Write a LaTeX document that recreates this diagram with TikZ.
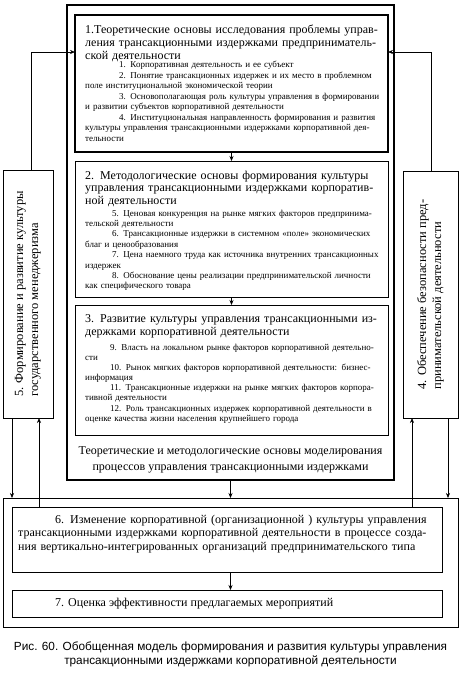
\documentclass[tikz,border=0pt]{standalone}
\usepackage{fontspec}
\setmainfont{Liberation Serif}
\newfontfamily\capfont{Liberation Sans}
\usetikzlibrary{arrows.meta}
\newcommand{\JL}[1]{\makebox[\linewidth][s]{#1}}
\begin{document}
\begin{tikzpicture}[x=1pt,y=-1pt,
  box/.style={draw=black, line width=0.8pt, inner sep=0pt, outer sep=0pt, anchor=north west},
  heavybox/.style={box, line width=1.3pt},
  arr/.style={-{Stealth[length=5pt,width=4pt]}, line width=0.6pt},
  ttl/.style={anchor=north west, inner sep=0pt, align=left},
  itm/.style={anchor=north west, inner sep=0pt, align=left},
  vtxt/.style={rotate=90, inner sep=0pt, align=left, font=\fontsize{12.5}{15}\selectfont},
]
\useasboundingbox (0,0) rectangle (472,673);

% outer frame and boxes
\node[heavybox, minimum width=327, minimum height=475] (outer) at (67,5) {};
\node[heavybox, minimum width=313, minimum height=137] (b1) at (75,15) {};
\node[box, minimum width=313, minimum height=136] (b2) at (75,161) {};
\node[box, minimum width=313, minimum height=130] (b3) at (75,305) {};
\node[box, minimum width=50, minimum height=248] (b5) at (3,170) {};
\node[box, minimum width=55, minimum height=247] (b4) at (403,171) {};
\node[box, minimum width=455, minimum height=129] (frame) at (3,498) {};
\node[box, minimum width=430, minimum height=65] (b6) at (12,507) {};
\node[box, minimum width=430, minimum height=27] (b7) at (12,590) {};

% box 1 text
\node[ttl, text width=300pt, font=\fontsize{12}{13}\selectfont] (t1) at (85,23.9)
 {\strut\JL{1.Теоретические основы исследования проблемы управ-}\\
  \JL{ления трансакционными издержками предприниматель-}\\
  ской деятельности};
\node[itm, text width=296pt, font=\fontsize{9}{10.5}\selectfont] (i1) at (85,60.15)
 {\strut\hspace*{34pt}1. Корпоративная  деятельность и ее субъект\\
  \JL{\hspace*{34pt}2. Понятие трансакционных издержек и их место в проблемном}\\
  поле институциональной экономической теории\\
  \JL{\hspace*{34pt}3. Основополагающая роль культуры управления в формировании}\\
  и развитии субъектов корпоративной деятельности\\
  \JL{\hspace*{34pt}4. Институциональная направленность формирования и развития}\\
  \JL{культуры управления трансакционными издержками корпоративной дея-}\\
  тельности};

% box 2 text
\node[ttl, text width=294pt, font=\fontsize{12}{12.7}\selectfont] (t2) at (85,170.1)
 {\strut\JL{2. Методологические основы формирования культуры}\\
  \JL{управления трансакционными издержками корпоратив-}\\
  ной деятельности};
\node[itm, text width=293pt, font=\fontsize{9}{10.4}\selectfont] (i2) at (85,208.7)
 {\strut\JL{\hspace*{27pt}5. Ценовая конкуренция на рынке мягких факторов предпринима-}\\
  тельской деятельности\\
  \JL{\hspace*{27pt}6. Трансакционные издержки в системном «поле» экономических}\\
  благ и ценообразования\\
  \JL{\hspace*{27pt}7. Цена наемного труда как источника внутренних трансакционных}\\
  издержек\\
  \JL{\hspace*{27pt}8. Обоснование цены реализации предпринимательской личности}\\
  как специфического товара};

% box 3 text
\node[ttl, text width=294pt, font=\fontsize{12}{13.5}\selectfont] (t3) at (85,312.55)
 {\strut\JL{3. Развитие культуры управления трансакционными из-}\\
  держками корпоративной деятельности};
\node[itm, text width=295pt, font=\fontsize{9}{10.15}\selectfont] (i3) at (85,342.9)
 {\strut\JL{\hspace*{25pt}9. Власть на локальном рынке факторов корпоративной деятельно-}\\
  сти\\
  \JL{\hspace*{25pt}10. Рынок мягких факторов корпоративной деятельности: бизнес-}\\
  информация\\
  \JL{\hspace*{25pt}11. Трансакционные издержки на рынке мягких факторов корпора-}\\
  тивной деятельности\\
  \JL{\hspace*{25pt}12. Роль трансакционных издержек корпоративной деятельности в}\\
  оценке качества жизни населения крупнейшего города};

% text under box 3
\node[anchor=north, inner sep=0pt, align=center, font=\fontsize{12}{16.5}\selectfont] (tm) at (230.5,442.45)
 {\strut Теоретические и методологические основы моделирования\\
  процессов управления трансакционными издержками};

% side boxes text
\node[vtxt] (t5) at (b5.center) {5. Формирование и развитие культуры\\государственного менеджеризма};
\node[vtxt] (t4) at (b4.center) {4. Обеспечение безопасности пред-\\принимательской деятельности};

% box 6 and 7 text
\node[ttl, text width=408pt, font=\fontsize{12}{13.5}\selectfont] (t6) at (18,513.55)
 {\strut\JL{\hspace*{37pt}6. Изменение корпоративной (организационной ) культуры управления}\\
  \JL{трансакционными издержками корпоративной деятельности в процессе созда-}\\
  \JL{ния вертикально-интегрированных организаций предпринимательского типа}};
\node[anchor=base west, inner sep=0pt, font=\fontsize{12}{13.5}\selectfont] (t7) at (55,606)
 {7. Оценка эффективности предлагаемых мероприятий};

% caption
\node[anchor=north, inner sep=0pt, align=center, font=\capfont\fontsize{11.8}{14}\selectfont] (cap) at (230.5,640.2)
 {\strut Рис. 60. Обобщенная модель формирования и развития культуры управления\\
  трансакционными издержками корпоративной деятельности};

% connector helper coordinates
\coordinate (c5) at (31,52);
\coordinate (c4) at (431,52);
\coordinate (d5) at (12,0);
\coordinate (u5) at (39,0);
\coordinate (u4) at (412,0);
\coordinate (d4) at (448,0);

% connectors
\draw[arr] (b1.south) -- (b2.north);
\draw[arr] (b2.south) -- (b3.north);
\draw[arr] (outer.south) -- (outer.south |- frame.north);
\draw[arr] (b6.south -| outer.south) -- (b7.north -| outer.south);
\draw[arr] (b5.north -| c5) |- (b1.west |- c5);
\draw[arr] (b4.north -| c4) |- (b1.east |- c4);
\draw[arr] (b5.south -| d5) -- (frame.north -| d5);
\draw[arr] (b6.north -| u5) -- (b5.south -| u5);
\draw[arr] (b6.north -| u4) -- (b4.south -| u4);
\draw[arr] (b4.south -| d4) -- (frame.north -| d4);
\end{tikzpicture}
\end{document}
